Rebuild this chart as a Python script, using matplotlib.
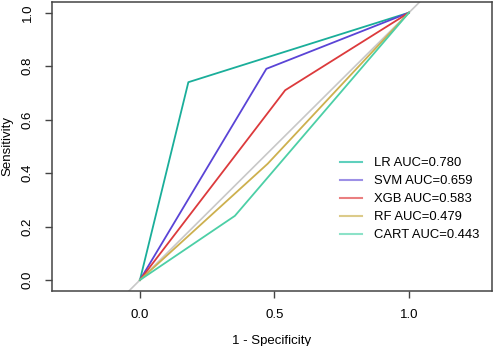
import matplotlib
matplotlib.use('Agg')
import matplotlib.pyplot as plt
from matplotlib.lines import Line2D

plt.rcParams['font.family'] = ['Liberation Sans', 'DejaVu Sans']

# ROC curves (1 - specificity, sensitivity)
models = ['LR', 'SVM', 'XGB', 'RF', 'CART']
aucs = ['0.780', '0.659', '0.583', '0.479', '0.443']
fpr = {
    'LR': [0.0, 0.18, 1.0],
    'SVM': [0.0, 0.47, 1.0],
    'XGB': [0.0, 0.54, 1.0],
    'RF': [0.0, 0.475, 1.0],
    'CART': [0.0, 0.353, 1.0],
}
tpr = {
    'LR': [0.0, 0.74, 1.0],
    'SVM': [0.0, 0.79, 1.0],
    'XGB': [0.0, 0.71, 1.0],
    'RF': [0.0, 0.435, 1.0],
    'CART': [0.0, 0.24, 1.0],
}
colors = ['#1aae9a', '#5a44d6', '#dc3a3c', '#cdb04e', '#4ccfa6']
legend_colors = ['#5fd0bd', '#9d90e6', '#ea7f80', '#dccb8a', '#8ce2c8']

fig = plt.figure(figsize=(4.98, 3.46), dpi=100)
ax = fig.add_axes([52 / 498, 1 - 290.7 / 346, (492 - 52) / 498, (290.7 - 2) / 346])

# reference diagonal
ax.plot([-0.1, 1.1], [-0.1, 1.1], color='#c8c8c8', lw=1.2, zorder=1)

for m, c in zip(models, colors):
    ax.plot(fpr[m], tpr[m], color=c, lw=1.3, zorder=2)

ax.set_xlim(-0.327, 1.309)
ax.set_ylim(-0.04, 1.04)
ax.set_xticks([0.0, 0.5, 1.0])
ax.set_xticklabels(['0.0', '0.5', '1.0'])
ax.set_yticks([0.0, 0.2, 0.4, 0.6, 0.8, 1.0])
ax.set_yticklabels(['0.0', '0.2', '0.4', '0.6', '0.8', '1.0'], rotation=90, va='center')
ax.tick_params(length=5, width=1, color='#444444', labelsize=9.5, pad=8)
for s in ax.spines.values():
    s.set_color('#444444')
    s.set_linewidth(1.1)

ax.set_xlabel('1 - Specificity', fontsize=9.5, labelpad=10)
ax.set_ylabel('Sensitivity', fontsize=9.5, labelpad=6)

handles = [Line2D([], [], color=c, lw=1.5) for c in legend_colors]
labels = [f'{m} AUC={a}' for m, a in zip(models, aucs)]
ax.legend(handles, labels, loc='lower right', bbox_to_anchor=(0.997, 0.13),
          frameon=False, fontsize=9.4, handlelength=1.7, handletextpad=0.9,
          labelspacing=0.45)

fig.savefig('out.png', dpi=100)
